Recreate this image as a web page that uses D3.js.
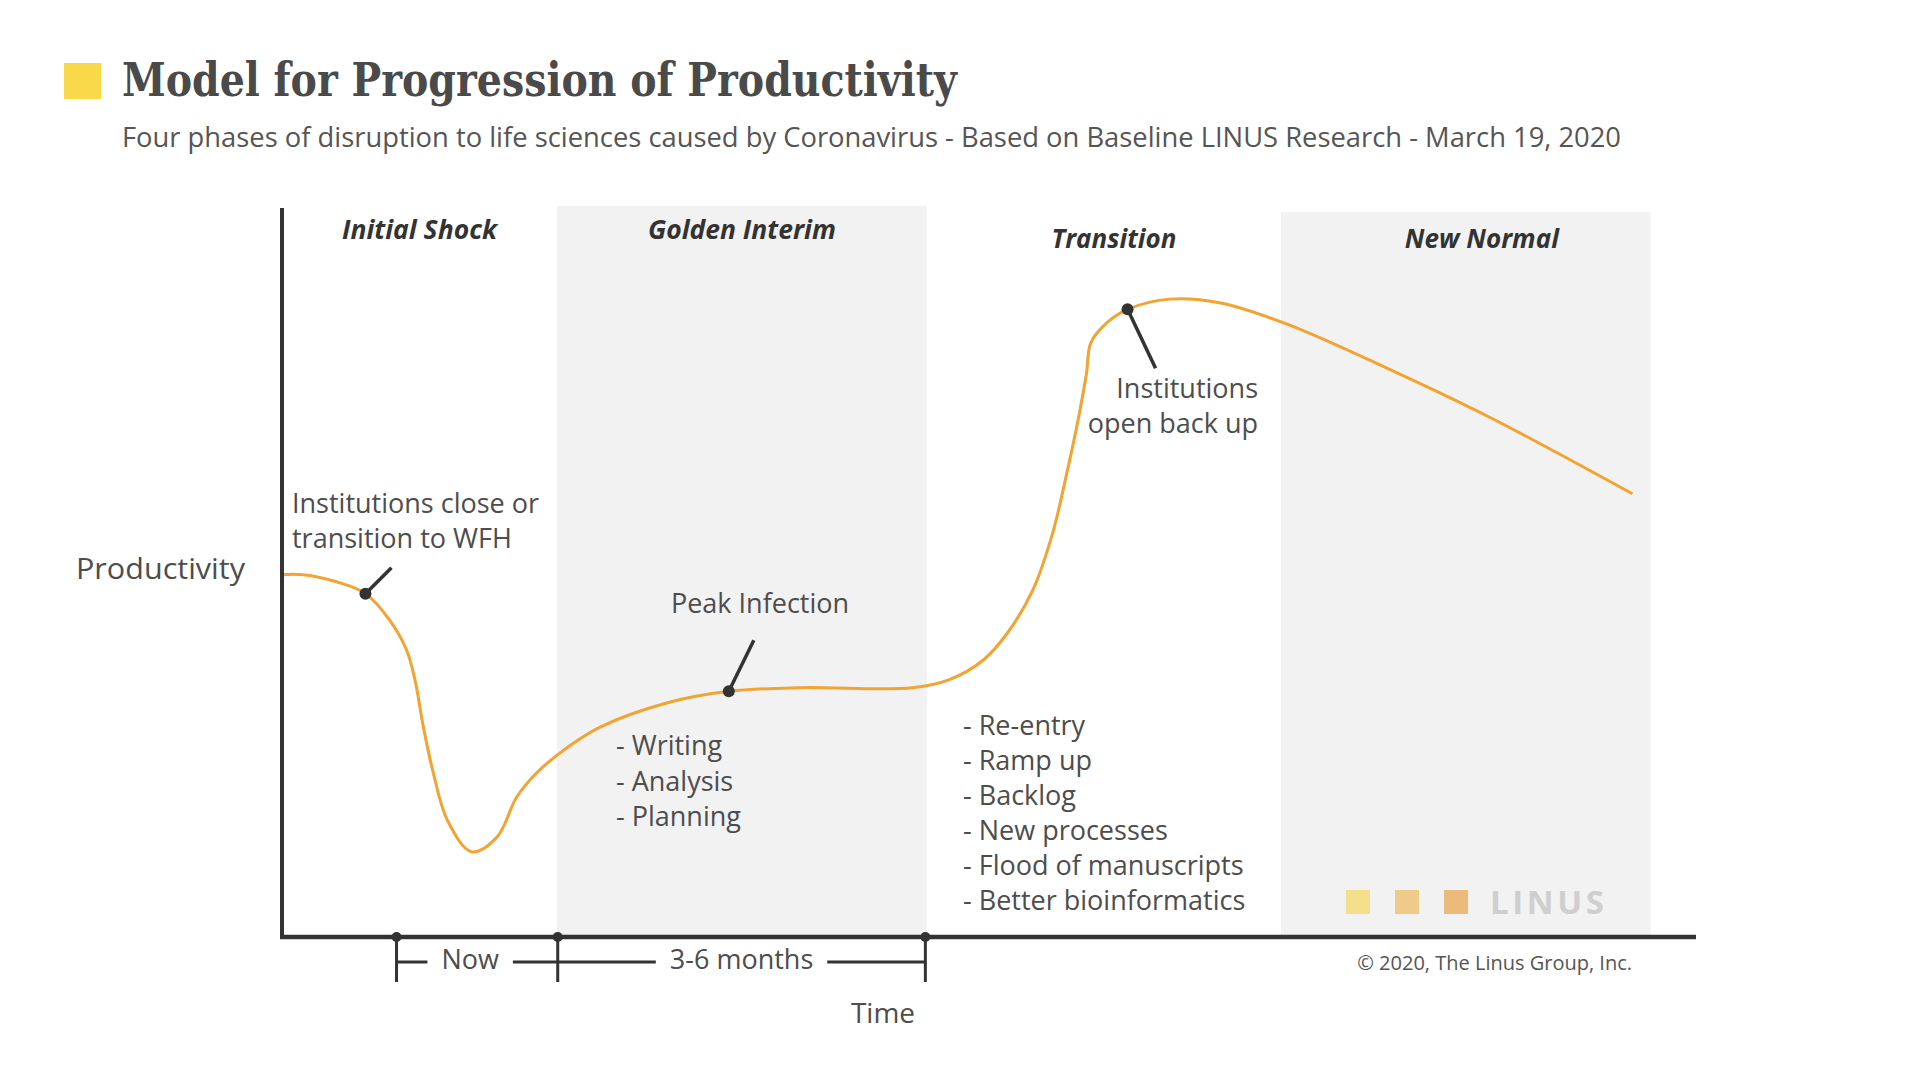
<!DOCTYPE html>
<html>
<head>
<meta charset="utf-8">
<script src="https://cdn.jsdelivr.net/npm/d3@7"></script>
<style>
  html, body { margin: 0; padding: 0; background: #fff; }
  svg { display: block; }
</style>
</head>
<body>
<svg id="chart" width="1920" height="1080"></svg>
<script>
// ---------- DATA ----------
const titleText = "Model for Progression of Productivity";
const subtitleText = "Four phases of disruption to life sciences caused by Coronavirus - Based on Baseline LINUS Research - March 19, 2020";

// phases (time units 0..100 along the x axis)
const phaseNames = ["Initial Shock", "Golden Interim", "Transition", "New Normal"];
const phaseStart = [0, 19.45, 45.6, 70.65];
const phaseEnd   = [19.45, 45.6, 70.65, 96.8];
const phaseShaded = [false, true, false, true];

// productivity curve
const timeVals = [0, 1.5, 3.9, 5.9, 7.6, 8.8, 9.4, 10.0, 10.7, 11.7, 13.4, 15.2, 16.6, 18.0, 20.4, 22.5, 27.2, 31.6, 36.6, 44.6, 47.2, 49.6, 51.3, 53.1, 54.5, 55.5, 56.4, 56.9, 57.2, 58.3, 59.8, 62.8, 66.3, 70.9, 78.4, 85.4, 95.5];
const productivity = [49.7, 49.7, 48.7, 47.1, 43.5, 39.4, 35.3, 28.8, 22.5, 16.0, 11.7, 13.7, 19.2, 22.5, 26.3, 28.8, 32.1, 33.7, 34.2, 34.2, 35.3, 38.0, 41.7, 47.6, 55.4, 63.6, 71.9, 77.4, 81.5, 84.2, 86.1, 87.5, 87.0, 84.2, 77.8, 71.3, 60.8];

// annotated events
const eventTime  = [5.9, 31.6, 59.8];
const eventValue = [47.1, 33.7, 86.1];
const eventLabels = [["Institutions close or", "transition to WFH"], ["Peak Infection"], ["Institutions", "open back up"]];

// activity lists
const goldenList = ["- Writing", "- Analysis", "- Planning"];
const transitionList = ["- Re-entry", "- Ramp up", "- Backlog", "- New processes", "- Flood of manuscripts", "- Better bioinformatics"];

// timeline brackets
const timelineTicks = [8.1, 19.5, 45.5];
const timelineLabels = ["Now", "3-6 months"];

const yAxisLabel = "Productivity";
const xAxisLabel = "Time";
const copyrightText = "© 2020, The Linus Group, Inc.";
const logoText = "LINUS";
const logoColors = ["#f3df8c", "#f0ca88", "#ebbb7b"];

// ---------- LAYOUT ----------
const svg = d3.select("#chart");
const FONT = "'Open Sans', 'Noto Sans', sans-serif";
const TXT = "#4d4d4d";
const DARK = "#333333";

const axisLeft = 282, axisRight = 1696, axisBottom = 937, axisTop = 208;
const x = d3.scaleLinear().domain([0, 100]).range([axisLeft, axisLeft + 1414]);
const y = d3.scaleLinear().domain([0, 100]).range([axisBottom, axisTop]);

svg.append("rect").attr("width", 1920).attr("height", 1080).attr("fill", "#fff");

// title
svg.append("rect").attr("x", 64).attr("y", 63).attr("width", 37).attr("height", 36).attr("fill", "#f9d84a");
svg.append("text").attr("x", 122).attr("y", 96)
  .attr("font-family", "'DejaVu Serif', serif").attr("font-weight", "bold")
  .attr("font-size", 46).attr("fill", "#4a4a4a")
  .attr("textLength", 835).attr("lengthAdjust", "spacingAndGlyphs")
  .text(titleText);
svg.append("text").attr("x", 122).attr("y", 147)
  .attr("font-family", FONT).attr("font-size", 27).attr("fill", "#555")
  .attr("textLength", 1499).attr("lengthAdjust", "spacingAndGlyphs")
  .text(subtitleText);

// phase bands
const bandTops = [208, 206, 208, 212];
phaseNames.forEach((p, i) => {
  if (phaseShaded[i]) {
    svg.append("rect")
      .attr("x", x(phaseStart[i])).attr("y", bandTops[i])
      .attr("width", x(phaseEnd[i]) - x(phaseStart[i]))
      .attr("height", axisBottom - bandTops[i])
      .attr("fill", "#f2f2f2");
  }
});
const phaseLabelY = [239, 239, 248, 248];
const phaseLabelDx = [0, 0, 10, 16];
const phaseLabelW = [155, 188, 125, 154];
phaseNames.forEach((p, i) => {
  svg.append("text")
    .attr("x", (x(phaseStart[i]) + x(phaseEnd[i])) / 2 + phaseLabelDx[i])
    .attr("y", phaseLabelY[i])
    .attr("text-anchor", "middle")
    .attr("font-family", FONT).attr("font-weight", "bold").attr("font-style", "italic")
    .attr("font-size", 27).attr("fill", DARK)
    .attr("textLength", phaseLabelW[i]).attr("lengthAdjust", "spacingAndGlyphs")
    .text(p);
});

// logo
const logoSize = 24;
logoColors.forEach((c, i) => {
  svg.append("rect").attr("x", 1346 + i * 49).attr("y", 890)
    .attr("width", logoSize).attr("height", logoSize).attr("fill", c);
});
svg.append("text").attr("x", 1490).attr("y", 914)
  .attr("font-family", FONT).attr("font-weight", "bold").attr("font-size", 33)
  .attr("fill", "#cfcfcf").attr("textLength", 114).attr("lengthAdjust", "spacing")
  .text(logoText);

// curve
const curveData = timeVals.map((t, i) => ({ t, v: productivity[i] }));
const line = d3.line().x(d => x(d.t)).y(d => y(d.v)).curve(d3.curveCatmullRom.alpha(0.5));
svg.append("path").datum(curveData)
  .attr("d", line).attr("fill", "none")
  .attr("stroke", "#f2a331").attr("stroke-width", 3);

// axes
svg.append("line").attr("x1", axisLeft).attr("x2", axisLeft)
  .attr("y1", axisTop).attr("y2", axisBottom + 2)
  .attr("stroke", DARK).attr("stroke-width", 4);
svg.append("line").attr("x1", axisLeft - 2).attr("x2", axisRight)
  .attr("y1", axisBottom).attr("y2", axisBottom)
  .attr("stroke", DARK).attr("stroke-width", 4.5);

// event markers with leader lines
const leader = [[26, -26], [25, -51], [28, 59]];
eventTime.forEach((t, i) => {
  const px = x(t), py = y(eventValue[i]);
  svg.append("line").attr("x1", px).attr("y1", py)
    .attr("x2", px + leader[i][0]).attr("y2", py + leader[i][1])
    .attr("stroke", DARK).attr("stroke-width", 3.5);
  svg.append("circle").attr("cx", px).attr("cy", py).attr("r", 6).attr("fill", DARK);
});

// event labels
function multiline(lines, xx, yy, anchor, lh, fs) {
  const t = svg.append("text").attr("font-family", FONT).attr("font-size", fs || 27)
    .attr("fill", TXT).attr("text-anchor", anchor);
  lines.forEach((l, j) => t.append("tspan").attr("x", xx).attr("y", yy + j * lh).text(l));
  return t;
}
multiline(eventLabels[0], 292, 513, "start", 35);
multiline(eventLabels[1], 760, 613, "middle", 35);
multiline(eventLabels[2], 1258, 398, "end", 35);

// lists
multiline(goldenList, 616, 755, "start", 35.5);
multiline(transitionList, 963, 735, "start", 35);

// axis labels
svg.append("text").attr("x", 76).attr("y", 579)
  .attr("font-family", FONT).attr("font-size", 30).attr("fill", TXT)
  .attr("textLength", 169).attr("lengthAdjust", "spacingAndGlyphs").text(yAxisLabel);
svg.append("text").attr("x", 883).attr("y", 1023).attr("text-anchor", "middle")
  .attr("font-family", FONT).attr("font-size", 28).attr("fill", TXT).text(xAxisLabel);

// timeline brackets
const bracketY = 962, gap = 14;
const labelDx = [-7, 0];
timelineTicks.forEach(t => {
  svg.append("line").attr("x1", x(t)).attr("x2", x(t))
    .attr("y1", axisBottom).attr("y2", 982)
    .attr("stroke", DARK).attr("stroke-width", 3);
  svg.append("circle").attr("cx", x(t)).attr("cy", axisBottom).attr("r", 5).attr("fill", DARK);
});
timelineLabels.forEach((lab, i) => {
  const a = x(timelineTicks[i]), b = x(timelineTicks[i + 1]);
  const cx = (a + b) / 2 + labelDx[i];
  const txt = svg.append("text").attr("x", cx).attr("y", 969).attr("text-anchor", "middle")
    .attr("font-family", FONT).attr("font-size", 27).attr("fill", TXT).text(lab);
  const w = txt.node().getComputedTextLength();
  svg.append("line").attr("x1", a).attr("x2", cx - w / 2 - gap)
    .attr("y1", bracketY).attr("y2", bracketY).attr("stroke", DARK).attr("stroke-width", 3);
  svg.append("line").attr("x1", cx + w / 2 + gap).attr("x2", b)
    .attr("y1", bracketY).attr("y2", bracketY).attr("stroke", DARK).attr("stroke-width", 3);
});

// copyright
svg.append("text").attr("x", 1632).attr("y", 970).attr("text-anchor", "end")
  .attr("font-family", FONT).attr("font-size", 20).attr("fill", "#555").text(copyrightText);
</script>
</body>
</html>
